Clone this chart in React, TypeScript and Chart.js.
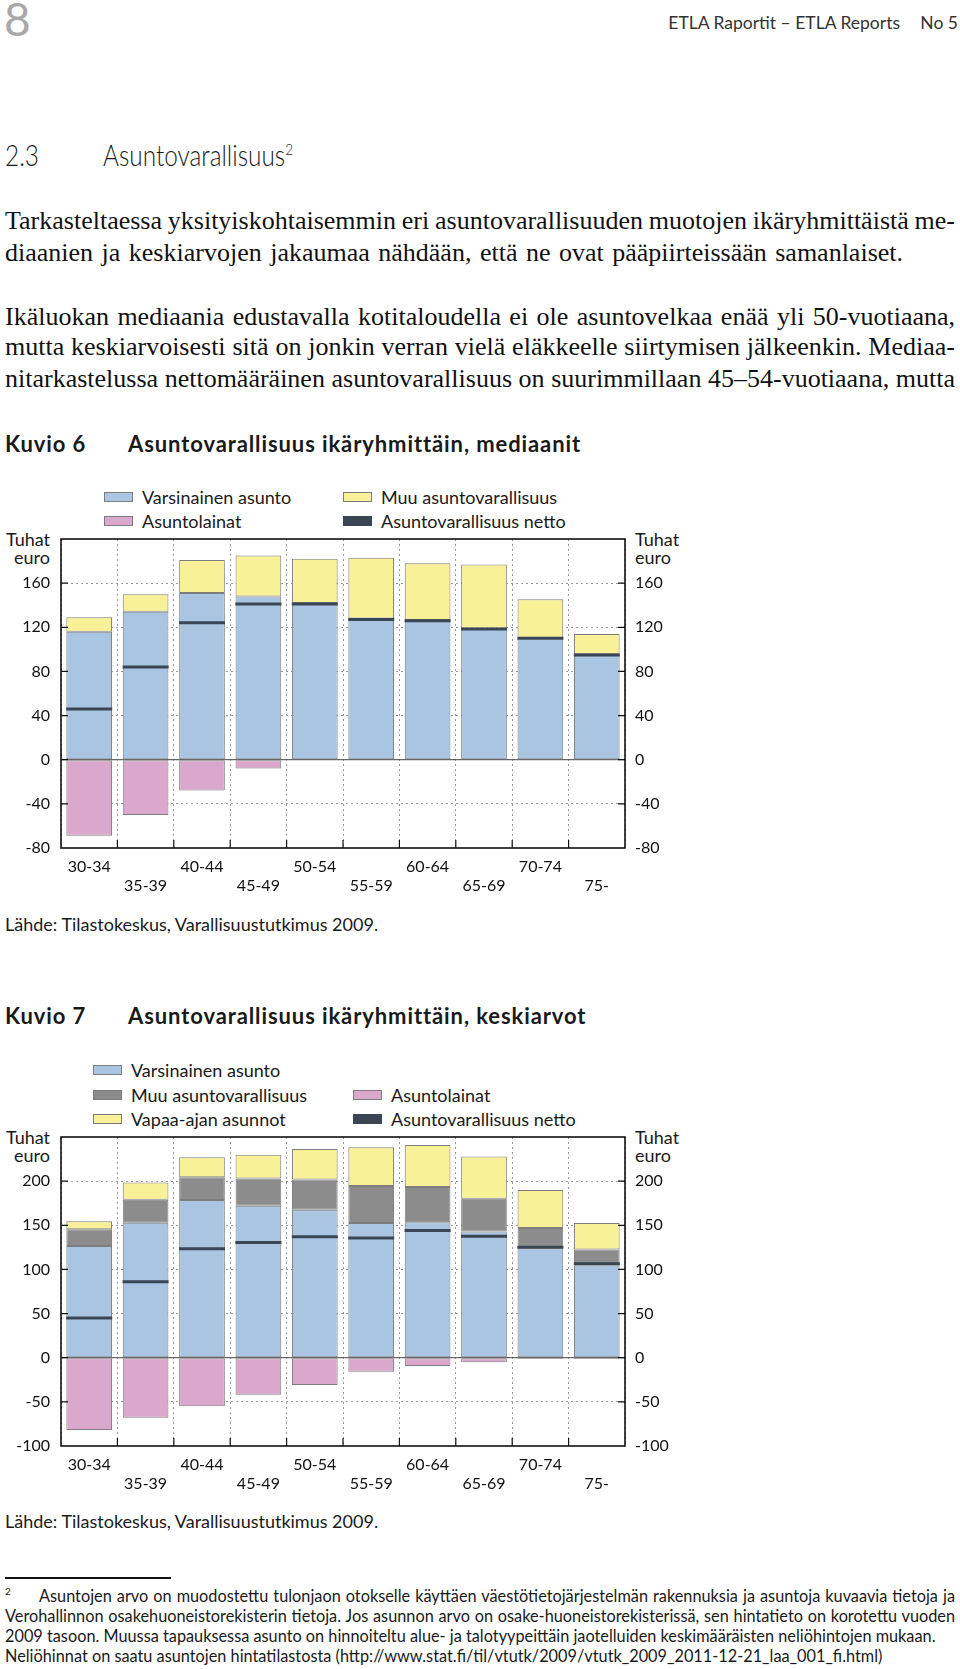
import React, { useEffect, useRef } from 'react';
import { Chart, registerables } from 'chart.js';

Chart.register(...registerables);

// ---------- data ----------
const CATEGORIES = ['30-34', '35-39', '40-44', '45-49', '50-54', '55-59', '60-64', '65-69', '70-74', '75-'];

// Kuvio 6 – mediaanit (tuhat euroa)
const MED_VARSINAINEN = [116, 134, 151, 148, 142, 128, 126.5, 119, 110.5, 95.5];
const MED_MUU = [13, 16, 30, 37, 40, 55, 51.5, 58, 35, 18.5];
const MED_LAINAT = [-69, -50, -28, -8, null, null, null, null, null, null];
const MED_NETTO = [46, 84, 124, 141, 141, 127, 126, 118.5, 110, 95];
const MED_MIN = -80;
const MED_MAX = 200;
const MED_STEP = 40;

// Kuvio 7 – keskiarvot (tuhat euroa)
const AVG_VARSINAINEN = [126.5, 153, 178.5, 172, 167.5, 152.5, 153.5, 143, 124, 104.5];
const AVG_MUU = [19, 26, 26, 31, 34.5, 42, 40, 37, 23, 18];
const AVG_VAPAA = [9, 19.5, 22.5, 27, 34.5, 44, 47.5, 48, 43, 30];
const AVG_LAINAT = [-82, -68, -55, -42, -31, -16, -9.5, -5, -1.5, -1.5];
const AVG_NETTO = [45, 86, 123.5, 130.5, 137, 135.5, 144, 137.5, 125, 106.5];
const AVG_MIN = -100;
const AVG_MAX = 250;
const AVG_STEP = 50;

// ---------- styles ----------
const BLUE = '#a9c5e2';
const YELLOW = '#f8f197';
const PINK = '#dba8cd';
const GRAY = '#8c8c8c';
const NET = '#3a4654';
const EDGE = '#7d7d7d';
const SANS = 'Lato, "Open Sans", sans-serif';
const SERIF = '"Liberation Serif", "DejaVu Serif", serif';

const CANVAS_W = 700;
const CANVAS_H = 373;
const X_AXIS_H = 52;
const TOP_PAD = 12;
const LEFT_W = 61;
const RIGHT_W = 75;

const framePlugin = {
  id: 'pageFrame',
  beforeDatasetsDraw(chart: any) {
    const { ctx, chartArea: a, scales } = chart;
    const y0 = scales.y.getPixelForValue(0);
    ctx.save();
    ctx.strokeStyle = '#444';
    ctx.lineWidth = 1;
    ctx.beginPath();
    ctx.moveTo(a.left, y0);
    ctx.lineTo(a.right, y0);
    ctx.stroke();
    ctx.restore();
  },
  afterDatasetsDraw(chart: any) {
    const { ctx, chartArea: a, scales } = chart;
    const ys = scales.y;
    const xs = scales.x;
    ctx.save();
    ctx.strokeStyle = '#111';
    ctx.lineWidth = 1.2;
    ctx.beginPath();
    ys.ticks.forEach((t: any) => {
      if (t.value <= ys.min || t.value >= ys.max) return;
      const py = ys.getPixelForValue(t.value);
      ctx.moveTo(a.left, py);
      ctx.lineTo(a.left + 7, py);
      ctx.moveTo(a.right - 7, py);
      ctx.lineTo(a.right, py);
    });
    for (let i = 1; i < CATEGORIES.length; i++) {
      const px = (xs.getPixelForValue(i - 1) + xs.getPixelForValue(i)) / 2;
      ctx.moveTo(px, a.bottom);
      ctx.lineTo(px, a.bottom - 8);
    }
    ctx.stroke();
    ctx.lineWidth = 1.6;
    ctx.strokeRect(a.left, a.top, a.right - a.left, a.bottom - a.top);
    ctx.restore();
  },
};

function barSet(label: string, data: (number | null)[], color: string) {
  return {
    type: 'bar' as const,
    label,
    data,
    backgroundColor: color,
    borderColor: EDGE,
    borderWidth: 1,
    borderSkipped: false,
    barPercentage: 0.81,
    categoryPercentage: 1,
    order: 1,
  };
}

function nettoSet(data: number[]) {
  return {
    type: 'line' as const,
    label: 'Asuntovarallisuus netto',
    data,
    stack: 'netto',
    showLine: false,
    pointStyle: 'line',
    pointRadius: 23,
    pointHoverRadius: 23,
    pointBorderWidth: 3,
    pointBorderColor: NET,
    pointBackgroundColor: NET,
    borderColor: NET,
    order: -1,
  };
}

function noPad(s: any) {
  s.paddingTop = 0;
  s.paddingBottom = 0;
  s.paddingLeft = 0;
  s.paddingRight = 0;
}

function makeConfig(datasets: any[], min: number, max: number, step: number) {
  const tickFont = { family: SANS, size: 16 };
  const yTicks = {
    stepSize: step,
    font: tickFont,
    color: '#111',
    callback: (v: any) => (v === max ? '' : String(v)),
  };
  return {
    type: 'bar' as const,
    data: { labels: CATEGORIES, datasets },
    options: {
      responsive: false,
      animation: false as const,
      layout: { autoPadding: false, padding: { top: TOP_PAD, left: 0, right: 0, bottom: 0 } },
      plugins: { legend: { display: false }, tooltip: { enabled: false } },
      events: [],
      scales: {
        x: {
          type: 'category' as const,
          stacked: true,
          offset: true,
          grid: { display: true, offset: true, color: '#9a9a9a', lineWidth: 1, drawTicks: false },
          border: { display: false, dash: [2, 3] },
          ticks: {
            padding: 9,
            font: tickFont,
            color: '#111',
            maxRotation: 0,
            autoSkip: false,
            callback: (_v: any, i: number) => (i % 2 === 0 ? [CATEGORIES[i]] : ['', CATEGORIES[i]]),
          },
          afterFit: (s: any) => {
            s.height = X_AXIS_H;
            noPad(s);
          },
        },
        y: {
          type: 'linear' as const,
          position: 'left' as const,
          stacked: true,
          min,
          max,
          ticks: { ...yTicks, padding: 11 },
          grid: {
            drawTicks: false,
            lineWidth: 1,
            color: (c: any) =>
              c.tick && (c.tick.value === 0 || c.tick.value === min || c.tick.value === max)
                ? 'rgba(0,0,0,0)'
                : '#9a9a9a',
          },
          border: { display: false, dash: [2, 3] },
          afterFit: (s: any) => {
            s.width = LEFT_W;
            noPad(s);
          },
        },
        y2: {
          type: 'linear' as const,
          position: 'right' as const,
          min,
          max,
          ticks: { ...yTicks, padding: 10 },
          grid: { display: false, drawTicks: false },
          border: { display: false },
          afterFit: (s: any) => {
            s.width = RIGHT_W;
            noPad(s);
          },
        },
      },
    },
    plugins: [framePlugin],
  };
}

function BarChart({ top, datasets, min, max, step }: any) {
  const ref = useRef<HTMLCanvasElement>(null);
  useEffect(() => {
    const chart = new Chart(ref.current as HTMLCanvasElement, makeConfig(datasets, min, max, step) as any);
    return () => chart.destroy();
  }, []);
  return (
    <canvas
      ref={ref}
      width={CANVAS_W}
      height={CANVAS_H}
      style={{ position: 'absolute', left: 0, top, width: CANVAS_W, height: CANVAS_H }}
    />
  );
}

function Txt({ x, y, size, lh, children, style }: any) {
  const l = lh || Math.round(size * 1.3);
  return (
    <div
      style={{
        position: 'absolute',
        left: x,
        top: y - l / 2,
        fontSize: size,
        lineHeight: l + 'px',
        whiteSpace: 'nowrap',
        ...style,
      }}
    >
      {children}
    </div>
  );
}

function JLine({ x, y, w, size, lh, text, justify, font, ws }: any) {
  return (
    <div
      style={{
        position: 'absolute',
        left: x,
        top: y - lh / 2,
        width: w,
        height: lh,
        fontSize: size,
        lineHeight: lh + 'px',
        fontFamily: font,
        wordSpacing: ws || 0,
        textAlign: justify ? 'justify' : 'left',
        textAlignLast: justify ? 'justify' : 'left',
        whiteSpace: 'normal',
      } as any}
    >
      {text}
    </div>
  );
}

const LABEL_SIZE = 18;

function LegendItem({ x, y, color, label }: any) {
  return (
    <>
      <div
        style={{
          position: 'absolute',
          left: x,
          top: y - 5,
          width: 29,
          height: 10,
          background: color,
          border: '1px solid ' + (color === NET ? NET : EDGE),
          boxSizing: 'border-box',
        }}
      />
      <Txt x={x + 38} y={y} size={LABEL_SIZE}>
        {label}
      </Txt>
    </>
  );
}

function AxisUnit({ y }: any) {
  return (
    <>
      <Txt x={0} y={y} size={LABEL_SIZE} style={{ width: 50, textAlign: 'right' }}>Tuhat</Txt>
      <Txt x={0} y={y + 18} size={LABEL_SIZE} style={{ width: 50, textAlign: 'right' }}>euro</Txt>
      <Txt x={635} y={y} size={LABEL_SIZE}>Tuhat</Txt>
      <Txt x={635} y={y + 18} size={LABEL_SIZE}>euro</Txt>
    </>
  );
}

const PARA_LINES = [
  { y: 220, j: true, ws: -4, t: 'Tarkasteltaessa yksityiskohtaisemmin eri asuntovarallisuuden muotojen ikäryhmittäistä me-' },
  { y: 252, j: false, ws: 2, t: 'diaanien ja keskiarvojen jakaumaa nähdään, että ne ovat pääpiirteissään samanlaiset.' },
  { y: 316, j: true, ws: -4, t: 'Ikäluokan mediaania edustavalla kotitaloudella ei ole asuntovelkaa enää yli 50-vuotiaana,' },
  { y: 346, j: true, ws: -4, t: 'mutta keskiarvoisesti sitä on jonkin verran vielä eläkkeelle siirtymisen jälkeenkin. Mediaa-' },
  { y: 378, j: true, ws: -4, t: 'nitarkastelussa nettomääräinen asuntovarallisuus on suurimmillaan 45–54-vuotiaana, mutta' },
];

const FOOT_LINES = [
  { x: 39, y: 1596, j: true, t: 'Asuntojen arvo on muodostettu tulonjaon otokselle käyttäen väestötietojärjestelmän rakennuksia ja asuntoja kuvaavia tietoja ja' },
  { x: 5, y: 1616, j: true, t: 'Verohallinnon osakehuoneistorekisterin tietoja. Jos asunnon arvo on osake-huoneistorekisterissä, sen hintatieto on korotettu vuoden' },
  { x: 5, y: 1636, j: false, t: '2009 tasoon. Muussa tapauksessa asunto on hinnoiteltu alue- ja talotyypeittäin jaotelluiden keskimääräisten neliöhintojen mukaan.' },
  { x: 5, y: 1656, j: false, t: 'Neliöhinnat on saatu asuntojen hintatilastosta (http://www.stat.fi/til/vtutk/2009/vtutk_2009_2011-12-21_laa_001_fi.html)' },
];

const TITLE_STYLE = { fontWeight: 700, letterSpacing: '0.9px' };

export default function App() {
  const medSets = [
    nettoSet(MED_NETTO),
    barSet('Varsinainen asunto', MED_VARSINAINEN, BLUE),
    barSet('Muu asuntovarallisuus', MED_MUU, YELLOW),
    barSet('Asuntolainat', MED_LAINAT, PINK),
  ];
  const avgSets = [
    nettoSet(AVG_NETTO),
    barSet('Varsinainen asunto', AVG_VARSINAINEN, BLUE),
    barSet('Muu asuntovarallisuus', AVG_MUU, GRAY),
    barSet('Vapaa-ajan asunnot', AVG_VAPAA, YELLOW),
    barSet('Asuntolainat', AVG_LAINAT, PINK),
  ];
  return (
    <div
      style={{
        position: 'absolute',
        left: 0,
        top: 0,
        width: 960,
        height: 1669,
        background: '#fff',
        fontFamily: SANS,
        color: '#1a1a1a',
        overflow: 'hidden',
      }}
    >
      {/* page header */}
      <Txt x={4} y={19} size={46} lh={48} style={{ color: '#a8a8a8', fontWeight: 400 }}>8</Txt>
      <Txt x={595} y={22} size={17.5} style={{ width: 305, textAlign: 'right', color: '#333' }}>
        ETLA Raportit – ETLA Reports
      </Txt>
      <Txt x={858} y={22} size={17.5} style={{ width: 100, textAlign: 'right', color: '#333' }}>No 5</Txt>

      {/* section heading */}
      <Txt x={5} y={155} size={29} style={{ fontWeight: 300, transform: 'scaleX(0.84)', transformOrigin: 'left center' }}>
        2.3
      </Txt>
      <Txt x={103} y={155} size={29} style={{ fontWeight: 300, transform: 'scaleX(0.84)', transformOrigin: 'left center' }}>
        Asuntovarallisuus<sup style={{ fontSize: 16, verticalAlign: 'top', position: 'relative', top: -6 }}>2</sup>
      </Txt>

      {/* body text */}
      {PARA_LINES.map((l, i) => (
        <div key={i} style={{ color: '#111' }}>
          <JLine x={5} y={l.y} w={950} size={26} lh={31} text={l.t} justify={l.j} ws={l.ws} font={SERIF} />
        </div>
      ))}

      {/* Kuvio 6 */}
      <Txt x={5} y={443} size={22} style={TITLE_STYLE}>Kuvio 6</Txt>
      <Txt x={128} y={443} size={22} style={TITLE_STYLE}>Asuntovarallisuus ikäryhmittäin, mediaanit</Txt>
      <LegendItem x={104} y={497} color={BLUE} label="Varsinainen asunto" />
      <LegendItem x={343} y={497} color={YELLOW} label="Muu asuntovarallisuus" />
      <LegendItem x={104} y={521} color={PINK} label="Asuntolainat" />
      <LegendItem x={343} y={521} color={NET} label="Asuntovarallisuus netto" />
      <AxisUnit y={539} />
      <BarChart top={539 - TOP_PAD} datasets={medSets} min={MED_MIN} max={MED_MAX} step={MED_STEP} />
      <Txt x={5} y={924} size={LABEL_SIZE}>Lähde: Tilastokeskus, Varallisuustutkimus 2009.</Txt>

      {/* Kuvio 7 */}
      <Txt x={5} y={1015} size={22} style={TITLE_STYLE}>Kuvio 7</Txt>
      <Txt x={128} y={1015} size={22} style={TITLE_STYLE}>Asuntovarallisuus ikäryhmittäin, keskiarvot</Txt>
      <LegendItem x={93} y={1070} color={BLUE} label="Varsinainen asunto" />
      <LegendItem x={93} y={1095} color={GRAY} label="Muu asuntovarallisuus" />
      <LegendItem x={93} y={1119} color={YELLOW} label="Vapaa-ajan asunnot" />
      <LegendItem x={353} y={1095} color={PINK} label="Asuntolainat" />
      <LegendItem x={353} y={1119} color={NET} label="Asuntovarallisuus netto" />
      <AxisUnit y={1137} />
      <BarChart top={1137 - TOP_PAD} datasets={avgSets} min={AVG_MIN} max={AVG_MAX} step={AVG_STEP} />
      <Txt x={5} y={1521} size={LABEL_SIZE}>Lähde: Tilastokeskus, Varallisuustutkimus 2009.</Txt>

      {/* footnote */}
      <div style={{ position: 'absolute', left: 5, top: 1577, width: 166, height: 2, background: '#111' }} />
      <Txt x={5} y={1591} size={10}>2</Txt>
      {FOOT_LINES.map((l, i) => (
        <JLine key={i} x={l.x} y={l.y} w={955 - l.x} size={16.3} lh={20} text={l.t} justify={l.j} font={SANS} />
      ))}
    </div>
  );
}
